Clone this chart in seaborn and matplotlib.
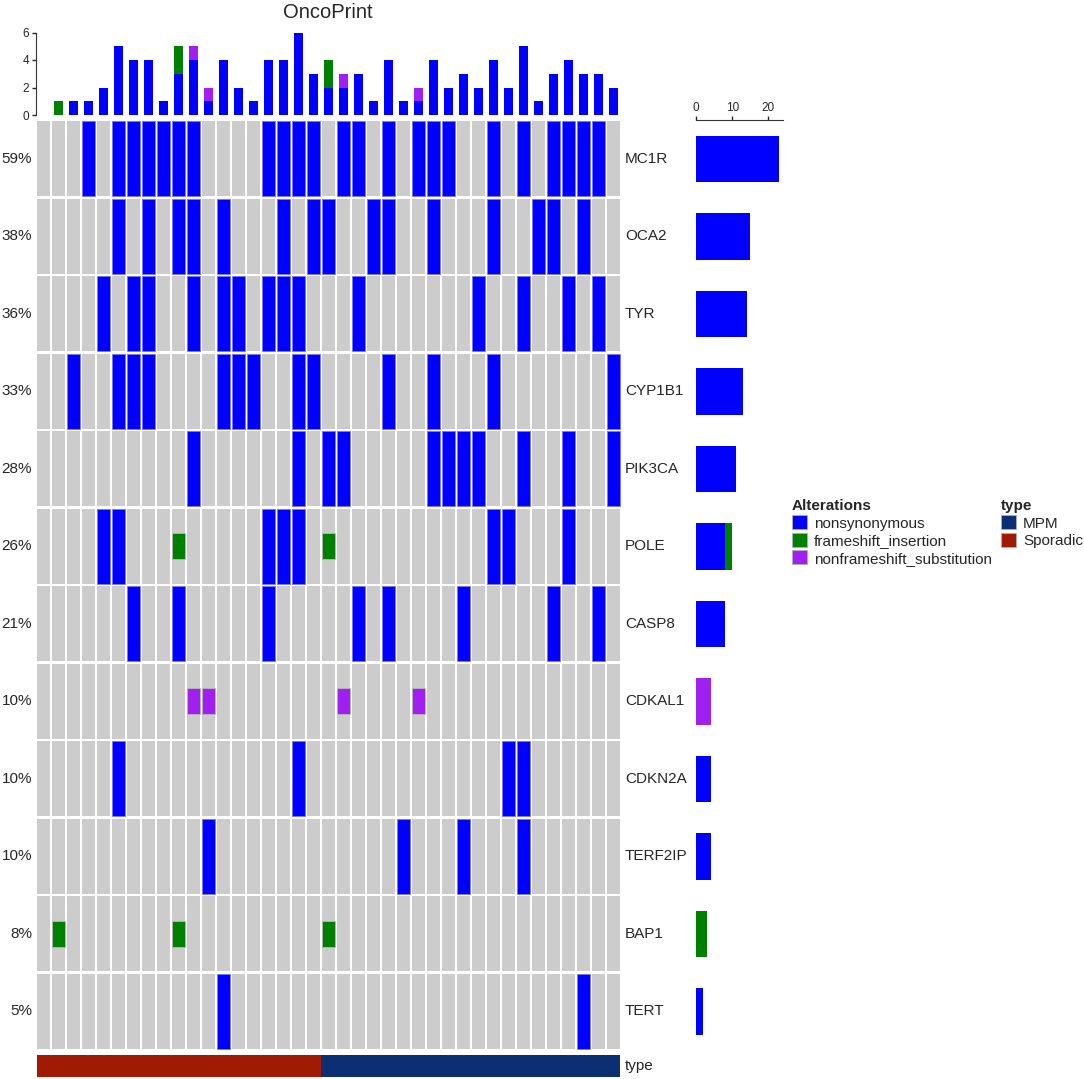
import numpy as np
import pandas as pd
import seaborn as sns
import matplotlib.pyplot as plt
import matplotlib.transforms as mtransforms
from matplotlib.patches import Patch
from matplotlib.colors import ListedColormap

plt.switch_backend('Agg')

# genes, top to bottom
genes = ['MC1R', 'OCA2', 'TYR', 'CYP1B1', 'PIK3CA', 'POLE', 'CASP8',
         'CDKAL1', 'CDKN2A', 'TERF2IP', 'BAP1', 'TERT']
n_samples = 39

# sample columns (0 = leftmost) carrying each alteration type
nonsynonymous = {
    'MC1R': [3, 5, 6, 7, 8, 9, 10, 15, 16, 17, 18, 20, 21, 23, 25, 26, 27, 30, 32, 34, 35, 36, 37],
    'OCA2': [5, 7, 9, 10, 12, 16, 18, 19, 22, 23, 26, 30, 33, 34, 36],
    'TYR': [4, 6, 7, 10, 12, 13, 15, 16, 17, 21, 29, 32, 35, 37],
    'CYP1B1': [2, 5, 6, 7, 12, 13, 14, 17, 18, 23, 26, 30, 38],
    'PIK3CA': [10, 17, 19, 20, 26, 27, 28, 29, 32, 35, 38],
    'POLE': [4, 5, 15, 16, 17, 30, 31, 35],
    'CASP8': [6, 9, 15, 21, 23, 28, 34, 37],
    'CDKN2A': [5, 17, 31, 32],
    'TERF2IP': [11, 24, 28, 32],
    'TERT': [12, 36],
}
frameshift_insertion = {
    'POLE': [9, 19],
    'BAP1': [1, 9, 19],
}
nonframeshift_substitution = {
    'CDKAL1': [10, 11, 20, 25],
}

# sample annotation, left to right
type_names = ['Sporadic', 'MPM']
type_counts = [19, 20]

alt_names = ['nonsynonymous', 'frameshift_insertion', 'nonframeshift_substitution']
alt_colors = {'nonsynonymous': '#0000FF',
              'frameshift_insertion': '#008000',
              'nonframeshift_substitution': '#A020F0'}
type_colors = {'MPM': '#0B2F72', 'Sporadic': '#A01A04'}
bg_color = '#CCCCCC'

# long table: one row per (gene, sample, alteration)
records = []
for alt, table in zip(alt_names, [nonsynonymous, frameshift_insertion, nonframeshift_substitution]):
    for gene, cols in table.items():
        for c in cols:
            records.append({'gene': gene, 'sample': c, 'alteration': alt})
df = pd.DataFrame(records)
df['row'] = df['gene'].map({g: i for i, g in enumerate(genes)})

# counts per sample and per gene
per_sample = (df.groupby(['sample', 'alteration']).size().unstack(fill_value=0)
              .reindex(index=range(n_samples), columns=alt_names, fill_value=0))
per_gene = (df.groupby(['gene', 'alteration']).size().unstack(fill_value=0)
            .reindex(index=genes, columns=alt_names, fill_value=0))
pct = df.groupby('gene')['sample'].nunique().reindex(genes) / n_samples * 100

sns.set_style('white')
plt.rcParams['font.family'] = ['Liberation Sans', 'DejaVu Sans']

W, H = 1084, 1079
fig = plt.figure(figsize=(W / 100, H / 100), dpi=100)

# ---- main grid ----
ax = fig.add_axes([36 / W, 1 - 1050 / H, 585 / W, 930 / H])
cc, rr = np.meshgrid(np.arange(n_samples), np.arange(len(genes)))
ax.bar(cc.ravel(), 0.97, bottom=rr.ravel() - 0.485, width=0.87,
       color=bg_color, linewidth=0)
full = df[df['alteration'] == 'nonsynonymous']
ax.bar(full['sample'], 0.97, bottom=full['row'] - 0.485, width=0.87,
       color=alt_colors['nonsynonymous'], edgecolor='#7A7AFF', linewidth=0.6)
for alt in alt_names[1:]:
    part = df[df['alteration'] == alt]
    ax.bar(part['sample'], 0.33, bottom=part['row'] - 0.165, width=0.87,
           color=alt_colors[alt], edgecolor='#B8B8B8', linewidth=0.6)
ax.set_xlim(-0.5, n_samples - 0.5)
ax.set_ylim(len(genes) - 0.5, -0.5)
ax.axis('off')

fig_y = mtransforms.blended_transform_factory(fig.transFigure, ax.transData)
for i, g in enumerate(genes):
    ax.text(32 / W, i, f'{pct[g]:.0f}%', transform=fig_y, ha='right', va='center', fontsize=11)
    ax.text(625 / W, i, g, transform=fig_y, ha='left', va='center', fontsize=11)

# ---- top bars (stacked by overlaying cumulative totals) ----
top = fig.add_axes([36 / W, 1 - 115 / H, 585 / W, 82.5 / H])
cum = per_sample.cumsum(axis=1)
for alt in alt_names[::-1]:
    sns.barplot(x=per_sample.index, y=cum[alt].values, color=alt_colors[alt],
                saturation=1, width=0.6, errorbar=None, linewidth=0, ax=top)
top.set_xlim(-0.5, n_samples - 0.5)
top.set_ylim(0, 6)
top.set_yticks([0, 2, 4, 6])
top.set_xticks([])
top.set_xlabel('')
top.set_ylabel('')
top.tick_params(axis='y', left=True, length=3, width=1, labelsize=8.5, pad=2)
sns.despine(ax=top, bottom=True)
top.spines['left'].set_color('#333333')

# ---- right bars ----
right = fig.add_axes([696 / W, 1 - 1050 / H, 87 / W, 930 / H])
cum_g = per_gene.cumsum(axis=1)
for alt in alt_names[::-1]:
    sns.barplot(x=cum_g[alt].values, y=genes, orient='h', color=alt_colors[alt],
                saturation=1, width=0.6, errorbar=None, linewidth=0, ax=right)
right.set_xlim(0, 24)
right.set_ylim(len(genes) - 0.5, -0.5)
right.xaxis.tick_top()
right.set_xticks([0, 10, 20])
right.set_yticks([])
right.set_xlabel('')
right.set_ylabel('')
right.tick_params(axis='x', top=True, bottom=False, length=3, width=1, labelsize=8.5, pad=1.5)
for s in ['left', 'right', 'bottom']:
    right.spines[s].set_visible(False)
right.spines['top'].set_color('#333333')

# ---- sample type annotation ----
tax = fig.add_axes([37 / W, 1 - 1077 / H, 583 / W, 22 / H])
sample_type = np.repeat(type_names, type_counts)
codes = np.array([[1 if t == 'Sporadic' else 0 for t in sample_type]])
sns.heatmap(codes, cmap=ListedColormap([type_colors['MPM'], type_colors['Sporadic']]),
            vmin=0, vmax=1, cbar=False, xticklabels=False, yticklabels=False, ax=tax)
fig.text(625 / W, 1 - 1066 / H, 'type', ha='left', va='center', fontsize=11)

# ---- title ----
fig.text(328 / W, 1 - 12 / H, 'OncoPrint', ha='center', va='center', fontsize=14.5)

# ---- legends ----
leg_kw = dict(loc='upper left', frameon=False, fontsize=11, alignment='left',
              title_fontproperties={'weight': 'bold', 'size': 11},
              handlelength=1.0, handleheight=1.0, handletextpad=0.45,
              labelspacing=0.16, borderpad=0, borderaxespad=0)
alt_handles = [Patch(facecolor=alt_colors[a], edgecolor='#B0B0B0', linewidth=0.6) for a in alt_names]
fig.legend(alt_handles, alt_names, bbox_to_anchor=(792 / W, 1 - 499 / H),
           title='Alterations', **leg_kw)
type_order = ['MPM', 'Sporadic']
type_handles = [Patch(facecolor=type_colors[t], edgecolor='#B0B0B0', linewidth=0.6) for t in type_order]
fig.legend(type_handles, type_order, bbox_to_anchor=(1001 / W, 1 - 499 / H),
           title='type', **leg_kw)

fig.savefig('out.png', dpi=100)
plt.close(fig)
